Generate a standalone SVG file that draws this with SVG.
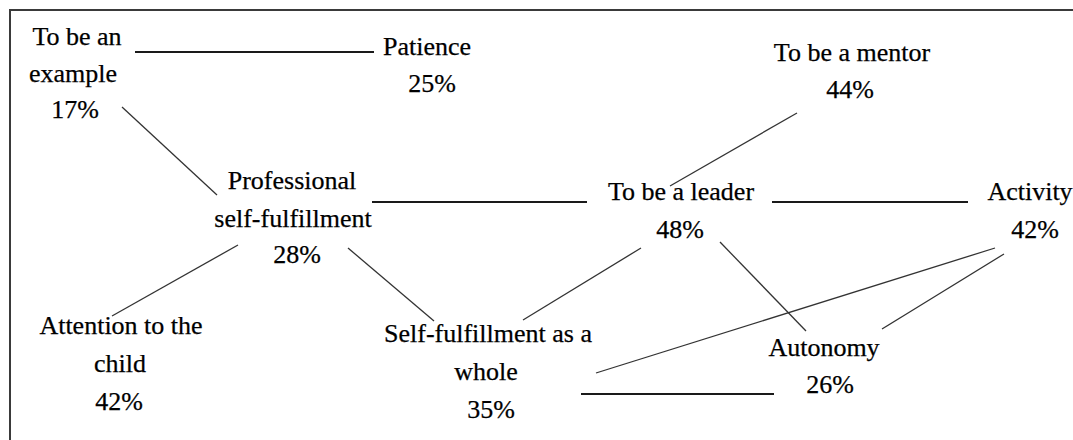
<svg xmlns="http://www.w3.org/2000/svg" width="1073" height="440" viewBox="0 0 1073 440">
  <style>
    .frame { fill: none; stroke: #3a3a3a; stroke-width: 2; }
    .lbl { font-family: "Liberation Serif", "Times New Roman", serif; font-size: 26px; fill: #000; stroke: #000; stroke-width: 0.25; text-anchor: middle; }
    .edge { fill: none; stroke: #333; stroke-width: 1.3; }
    .hedge { fill: none; stroke: #1a1a1a; stroke-width: 1.8; }
  </style>
  <rect width="1073" height="440" fill="#fff"/>
  <!-- frame: only top and left edges fall inside the canvas -->
  <path class="frame" d="M10,440 V10 H1073"/>

  <g id="connectors">
    <line class="hedge" x1="135" y1="52" x2="374" y2="52"/>
    <line class="edge" x1="122" y1="107" x2="217" y2="195"/>
    <line class="hedge" x1="372" y1="202" x2="587" y2="202"/>
    <line class="edge" x1="797" y1="113" x2="670" y2="186"/>
    <line class="hedge" x1="772" y1="202" x2="968" y2="202"/>
    <line class="edge" x1="238" y1="245" x2="112" y2="316"/>
    <line class="edge" x1="348" y1="248" x2="434" y2="321"/>
    <line class="edge" x1="641" y1="248" x2="523" y2="320"/>
    <line class="edge" x1="720" y1="242" x2="806" y2="331"/>
    <line class="edge" x1="995" y1="248" x2="596" y2="373"/>
    <line class="edge" x1="1004" y1="254" x2="882" y2="329"/>
    <line class="hedge" x1="581" y1="394" x2="774" y2="394"/>
  </g>

  <g id="example">
    <text class="lbl" x="77" y="45">To be an</text>
    <text class="lbl" x="73" y="82">example</text>
    <text class="lbl" x="75" y="118">17%</text>
  </g>
  <g id="patience">
    <text class="lbl" x="427" y="55">Patience</text>
    <text class="lbl" x="432" y="92">25%</text>
  </g>
  <g id="mentor">
    <text class="lbl" x="852" y="61">To be a mentor</text>
    <text class="lbl" x="850" y="98">44%</text>
  </g>
  <g id="professional">
    <text class="lbl" x="292" y="189">Professional</text>
    <text class="lbl" x="293" y="227">self-fulfillment</text>
    <text class="lbl" x="297" y="263">28%</text>
  </g>
  <g id="leader">
    <text class="lbl" x="681" y="200">To be a leader</text>
    <text class="lbl" x="680" y="238">48%</text>
  </g>
  <g id="activity">
    <text class="lbl" x="1030" y="200">Activity</text>
    <text class="lbl" x="1035" y="238">42%</text>
  </g>
  <g id="attention">
    <text class="lbl" x="121" y="334">Attention to the</text>
    <text class="lbl" x="120" y="372">child</text>
    <text class="lbl" x="119" y="410">42%</text>
  </g>
  <g id="whole">
    <text class="lbl" x="488" y="342">Self-fulfillment as a</text>
    <text class="lbl" x="486" y="380">whole</text>
    <text class="lbl" x="491" y="418">35%</text>
  </g>
  <g id="autonomy">
    <text class="lbl" x="824" y="356">Autonomy</text>
    <text class="lbl" x="830" y="393">26%</text>
  </g>
</svg>
